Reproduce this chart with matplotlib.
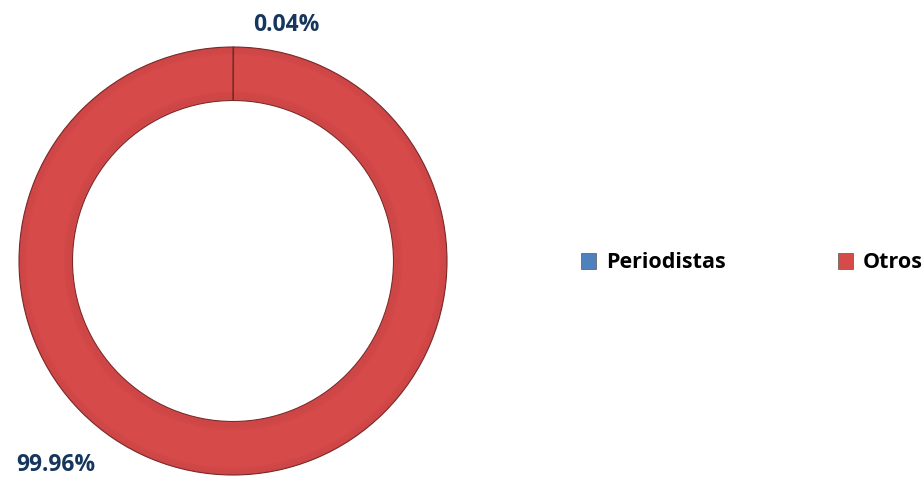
import matplotlib.pyplot as plt
from matplotlib.patches import Patch, Wedge

categories = ['Periodistas', 'Otros']
values = [0.04, 99.96]
labels = ['0.04%', '99.96%']
colors = ['#4F81BD', '#D64A4A']

fig = plt.figure(figsize=(9.24, 4.78), dpi=100)
# pie axes: centre ~ (233, 261) px, radius ~214 px
ax = fig.add_axes([(233 - 214) / 924, (478 - 261 - 214) / 478, 428 / 924, 428 / 478])
ax.set_aspect('equal')

wedges, _ = ax.pie(values, colors=colors, startangle=90, counterclock=False,
                   radius=1.0, wedgeprops=dict(width=0.25, edgecolor='#7A2A2A', linewidth=0.8))

# soft bevel: thin darker rings fading toward the middle of the band
for i in range(6):
    a = 0.05 * (6 - i) / 6 + 0.02
    ax.add_patch(Wedge((0, 0), 1.0 - i * 0.006, 0, 360, width=0.006, facecolor='#5A1010', alpha=a, lw=0))
    ax.add_patch(Wedge((0, 0), 0.756 + (i + 1) * 0.006, 0, 360, width=0.006, facecolor='#5A1010', alpha=a, lw=0))
ax.set_xlim(-1, 1)
ax.set_ylim(-1, 1)

# data labels
lab_color = '#17365D'
ax.text(0.25, 1.105, labels[0], ha='center', va='center', fontsize=16.5,
        fontweight='bold', color=lab_color, family='Open Sans')
ax.text(-0.83, -0.955, labels[1], ha='center', va='center', fontsize=16.5,
        fontweight='bold', color=lab_color, family='Open Sans')

handles = [Patch(facecolor=c, edgecolor='#555555', linewidth=0.5) for c in colors]
leg = fig.legend(handles, categories, loc='center', bbox_to_anchor=(752 / 924, 1 - 263 / 478),
                 ncol=2, frameon=False, handlelength=0.7, handleheight=0.7,
                 handletextpad=0.45, columnspacing=5.2,
                 prop={'family': 'Open Sans', 'weight': 'bold', 'size': 15.5})

fig.savefig('out.png', dpi=100)
